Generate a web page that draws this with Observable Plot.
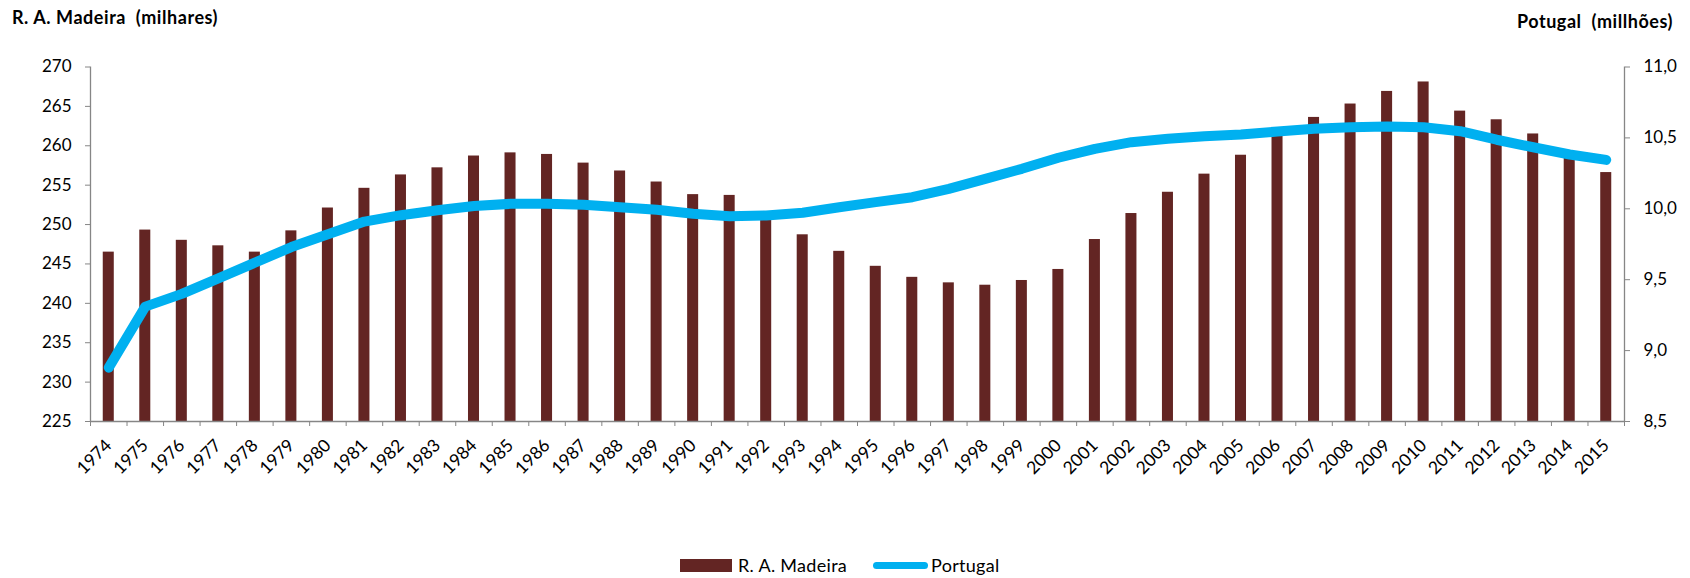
<!DOCTYPE html>
<html>
<head>
<meta charset="utf-8">
<script src="https://cdn.jsdelivr.net/npm/d3@7"></script>
<script src="https://cdn.jsdelivr.net/npm/@observablehq/plot@0.6"></script>
<style>
  html, body { margin: 0; padding: 0; background: #fff; }
  #wrap { position: relative; width: 1690px; height: 578px; font-family: Lato, "Open Sans", sans-serif; color: #000; overflow: hidden; }
  #chart { position: absolute; left: 0; top: 0; }
  .title { position: absolute; font-weight: bold; font-size: 18px; letter-spacing: 0.55px; white-space: pre; line-height: 22px; }
  #tl { left: 12px; top: 6px; }
  #tr { right: 17px; top: 10px; }
  #legend { position: absolute; top: 555px; left: 0; width: 1690px; height: 20px; font-size: 18px; letter-spacing: 0.3px; }
  .sw { position: absolute; }
  .lt { position: absolute; top: -1px; line-height: 22px; white-space: pre; }
</style>
</head>
<body>
<div id="wrap">
  <div id="chart"></div>
  <div class="title" id="tl">R. A. Madeira  (milhares)</div>
  <div class="title" id="tr">Potugal  (millhões)</div>
  <div id="legend">
    <div class="sw" style="left:680px; top:4px; width:52px; height:13px; background:#632523;"></div>
    <div class="lt" style="left:738px;">R. A. Madeira</div>
    <div class="sw" style="left:873px; top:7px; width:55px; height:7px; border-radius:4px; background:#00B0F0;"></div>
    <div class="lt" style="left:931px;">Portugal</div>
  </div>
</div>
<script>
const years = [1974,1975,1976,1977,1978,1979,1980,1981,1982,1983,1984,1985,1986,1987,1988,1989,1990,1991,1992,1993,1994,1995,1996,1997,1998,1999,2000,2001,2002,2003,2004,2005,2006,2007,2008,2009,2010,2011,2012,2013,2014,2015];
const madeira = [246.5,249.3,248.0,247.3,246.5,249.2,252.1,254.6,256.3,257.2,258.7,259.1,258.9,257.8,256.8,255.4,253.8,253.7,251.0,248.7,246.6,244.7,243.3,242.6,242.3,242.9,244.3,248.1,251.4,254.1,256.4,258.8,261.2,263.6,265.3,266.9,268.1,264.4,263.3,261.5,258.8,256.6];
const portugal = [8.88,9.31,9.40,9.51,9.62,9.73,9.82,9.91,9.955,9.99,10.02,10.035,10.035,10.028,10.011,9.993,9.965,9.948,9.953,9.972,10.011,10.047,10.082,10.141,10.211,10.282,10.36,10.423,10.47,10.494,10.512,10.524,10.545,10.564,10.575,10.58,10.575,10.547,10.487,10.434,10.383,10.345];
const leftTicks = [225,230,235,240,245,250,255,260,265,270];
const rightTicks = [8.5,9.0,9.5,10.0,10.5,11.0];

const leftMin = 225, leftMax = 270, rightMin = 8.5, rightMax = 11.0;
const k = (leftMax - leftMin) / (rightMax - rightMin);
const toLeft = v => leftMin + (v - rightMin) * k;
const fromLeft = v => rightMin + (v - leftMin) / k;

const data = years.map((year, i) => ({year, madeira: madeira[i], portugal: portugal[i]}));
const boundaries = d3.range(years[0] - 0.5, years[years.length - 1] + 1, 1);

const gray = "#868686";
const H = 500;

const chart = Plot.plot({
  width: 1690,
  height: H,
  marginLeft: 90,
  marginRight: 66,
  marginTop: 66.5,
  marginBottom: H - 421,
  x: {domain: [years[0] - 0.5, years[years.length - 1] + 0.5], axis: null},
  y: {domain: [leftMin, leftMax], axis: null},
  style: {fontFamily: "Lato, 'Open Sans', sans-serif", background: "transparent", overflow: "visible", color: "#000"},
  marks: [
    Plot.rectY(data, {x1: d => d.year - 0.5, x2: d => d.year + 0.5, y1: leftMin, y2: "madeira", fill: "#632523", insetLeft: 12.75, insetRight: 12.75}),
    Plot.ruleX([years[0] - 0.5, years[years.length - 1] + 0.5], {stroke: gray, strokeWidth: 1.3}),
    Plot.ruleY([leftMin], {stroke: gray, strokeWidth: 1.3}),
    Plot.line(data, {x: "year", y: d => toLeft(d.portugal), stroke: "#00B0F0", strokeWidth: 10, strokeLinejoin: "round", strokeLinecap: "round"}),
    Plot.axisY({anchor: "left", ticks: leftTicks, tickSize: 5, tickPadding: 14, fontSize: 17, stroke: gray, fill: "#000", label: null, tickFormat: d => String(d)}),
    Plot.axisY({anchor: "right", ticks: rightTicks.map(toLeft), tickSize: 5, tickPadding: 14, fontSize: 17, stroke: gray, fill: "#000", label: null,
      tickFormat: d => fromLeft(d).toFixed(1).replace(".", ",")}),
    Plot.axisX({anchor: "bottom", ticks: boundaries, tickSize: 5, stroke: gray, tickFormat: () => "", label: null}),
    Plot.axisX({anchor: "bottom", ticks: years, tickSize: 0, tickPadding: 21, tickRotate: -45, fontSize: 17.5, fill: "#000", label: null, tickFormat: d => String(d)})
  ]
});
document.getElementById("chart").appendChild(chart);
</script>
</body>
</html>
